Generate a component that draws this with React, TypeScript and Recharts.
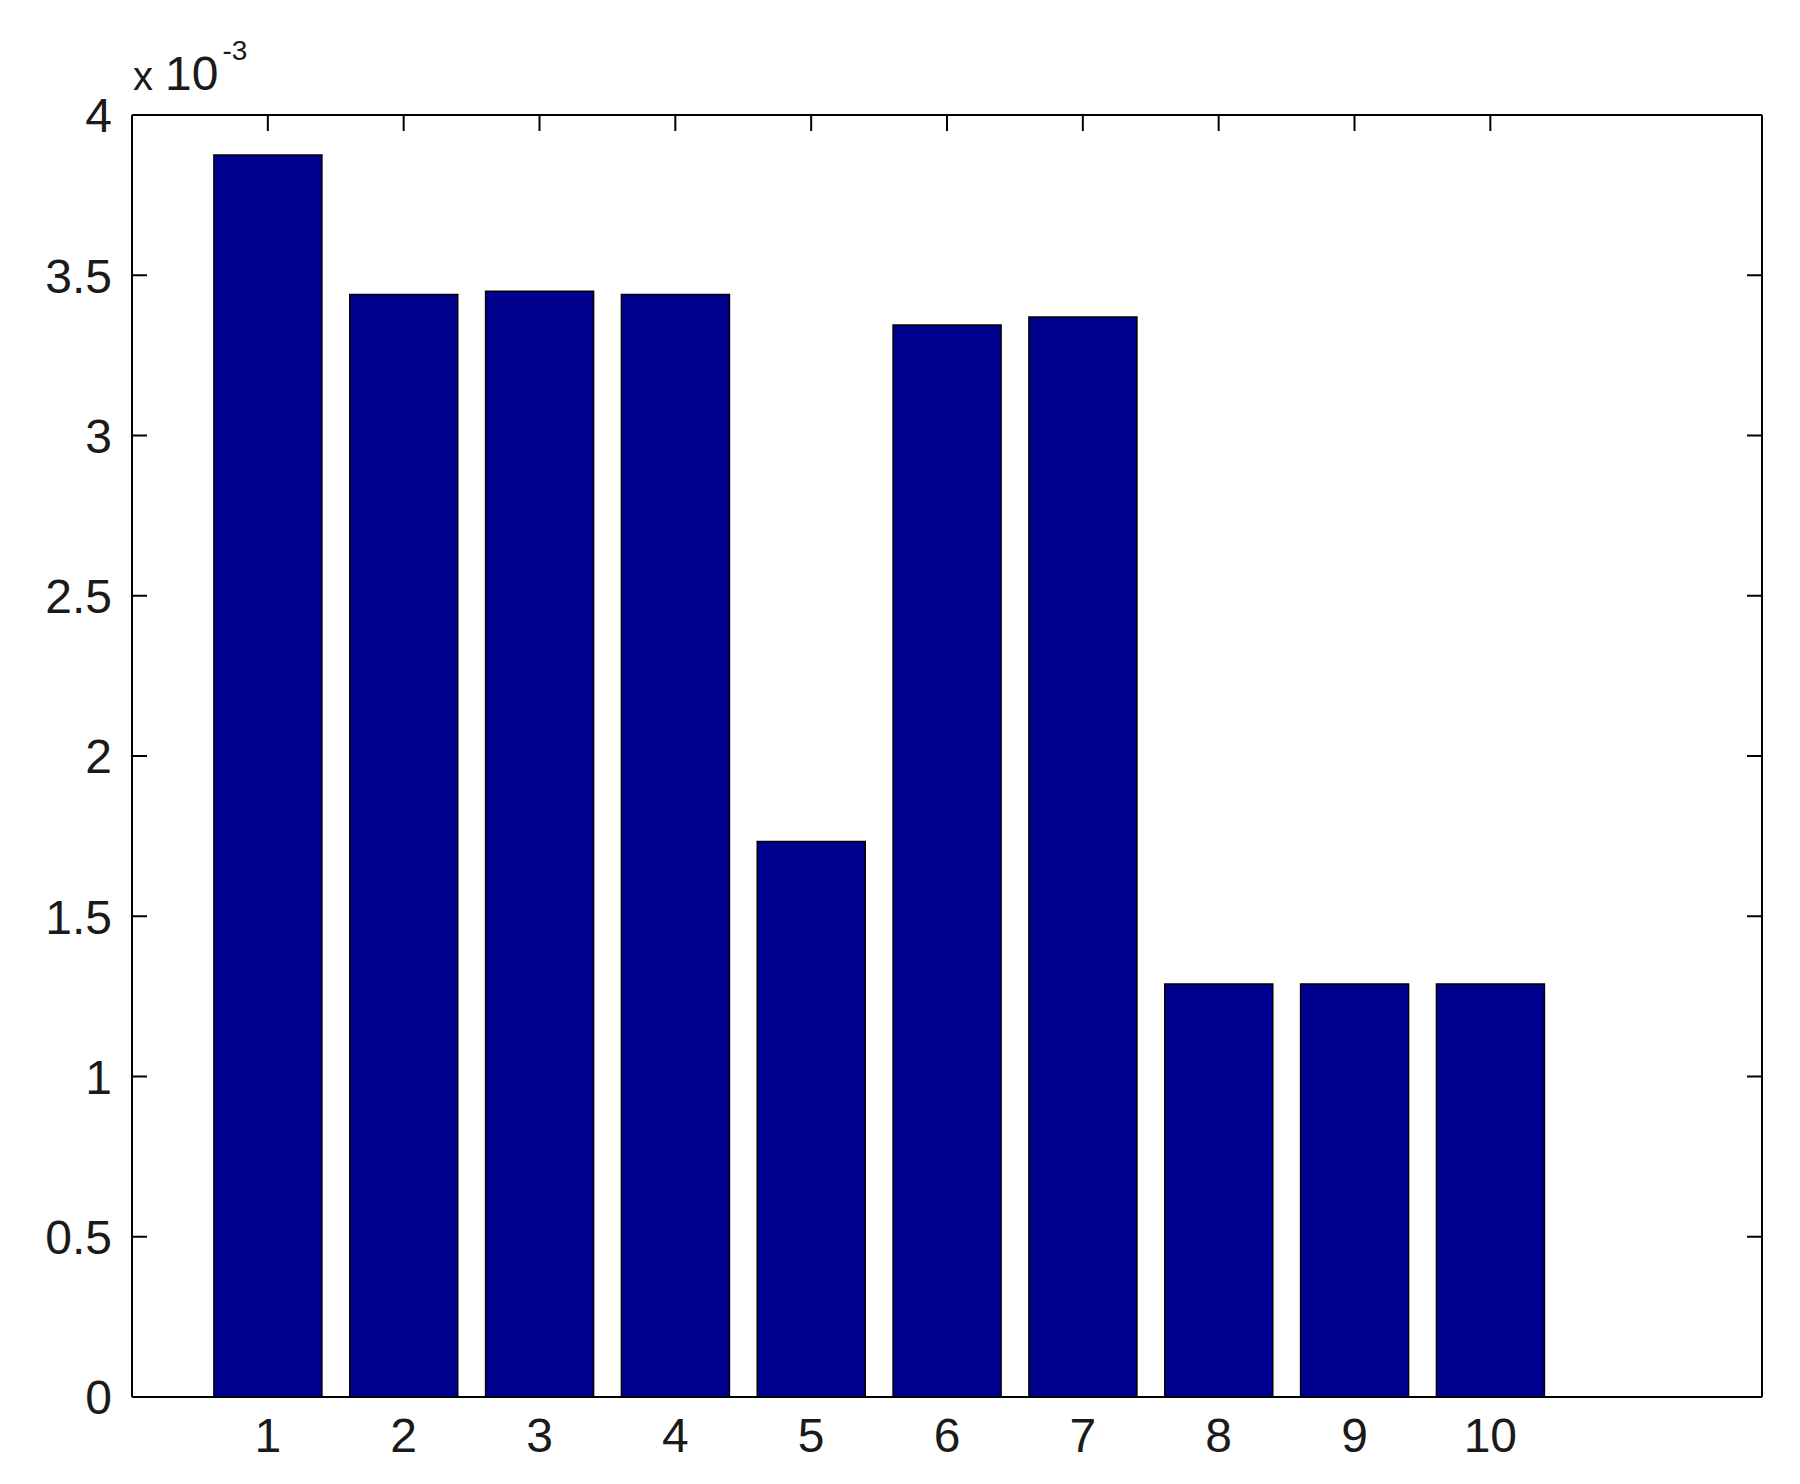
import React from "react";
import { BarChart, Bar, XAxis, YAxis } from "recharts";

const categories = [1, 2, 3, 4, 5, 6, 7, 8, 9, 10];
const values = [0.003875, 0.00344, 0.00345, 0.00344, 0.001733, 0.003345, 0.00337, 0.001289, 0.001289, 0.001289];
const yTicks = [0, 0.0005, 0.001, 0.0015, 0.002, 0.0025, 0.003, 0.0035, 0.004];
const xTicks = [1, 2, 3, 4, 5, 6, 7, 8, 9, 10];

const data = categories.map((c, i) => ({ x: c, v: values[i] }));

const FONT = "'Liberation Sans Narrow', 'Liberation Sans', Arial, sans-serif";
const FS = 48;

const fmtY = (v: number) => String(+(v * 1000).toFixed(1));

const LeftTick = (props: any) => {
  const { x, y, payload } = props;
  return (
    <g>
      <line x1={x} y1={y} x2={x + 15} y2={y} stroke="#000" strokeWidth={2} />
      <text x={x - 20} y={y} dy="0.36em" textAnchor="end" fontFamily={FONT} fontSize={FS} fill="#1a1a1a">
        {fmtY(payload.value)}
      </text>
    </g>
  );
};

const RightTick = (props: any) => {
  const { x, y } = props;
  return <line x1={x} y1={y} x2={x - 15} y2={y} stroke="#000" strokeWidth={2} />;
};

const TopTick = (props: any) => {
  const { x, y } = props;
  return <line x1={x} y1={y} x2={x} y2={y + 16} stroke="#000" strokeWidth={2} />;
};

const BottomTick = (props: any) => {
  const { x, y, payload } = props;
  return (
    <text x={x} y={y + 20} dy="0.72em" textAnchor="middle" fontFamily={FONT} fontSize={FS} fill="#1a1a1a">
      {payload.value}
    </text>
  );
};

const ExpLabel = (props: any) => {
  const vb = props.viewBox || {};
  const x = (vb.x ?? 0) + (vb.width ?? 0) + 1;
  const y = (vb.y ?? 0) - 25;
  return (
    <text x={x} y={y} fontFamily={FONT} fontSize={FS} fill="#1a1a1a">
      <tspan fontSize={40}>x</tspan>
      <tspan dx={12}>10</tspan>
      <tspan dx={4} dy={-30} fontSize={28}>-3</tspan>
    </text>
  );
};

export default function App() {
  return (
    <div style={{ width: 1784, height: 1468, background: "#fff" }}>
      <BarChart
        width={1784}
        height={1468}
        data={data}
        margin={{ top: 97, right: 20, bottom: 19, left: 24 }}
        barCategoryGap={0}
      >
        <XAxis
          xAxisId="b"
          dataKey="x"
          type="number"
          domain={[0, 12]}
          ticks={xTicks}
          interval={0}
          height={60}
          tickSize={0}
          tickMargin={0}
          tickLine={false}
          axisLine={{ stroke: "#000", strokeWidth: 2 }}
          tick={<BottomTick />}
          allowDataOverflow
        />
        <XAxis
          xAxisId="t"
          orientation="top"
          dataKey="x"
          type="number"
          domain={[0, 12]}
          ticks={xTicks}
          interval={0}
          height={10}
          tickSize={0}
          tickMargin={0}
          tickLine={false}
          axisLine={{ stroke: "#000", strokeWidth: 2 }}
          tick={<TopTick />}
          allowDataOverflow
        />
        <YAxis
          yAxisId="l"
          type="number"
          domain={[0, 0.004]}
          ticks={yTicks}
          interval={0}
          width={100}
          tickSize={0}
          tickMargin={0}
          tickLine={false}
          axisLine={{ stroke: "#000", strokeWidth: 2 }}
          tick={<LeftTick />}
          label={{ content: <ExpLabel /> }}
          allowDataOverflow
        />
        <YAxis
          yAxisId="r"
          orientation="right"
          type="number"
          domain={[0, 0.004]}
          ticks={yTicks}
          interval={0}
          width={10}
          tickSize={0}
          tickMargin={0}
          tickLine={false}
          axisLine={{ stroke: "#000", strokeWidth: 2 }}
          tick={<RightTick />}
          allowDataOverflow
        />
        <Bar
          xAxisId="b"
          yAxisId="l"
          dataKey="v"
          barSize={108}
          fill="#00008F"
          stroke="#000"
          strokeWidth={1.5}
          isAnimationActive={false}
        />
      </BarChart>
    </div>
  );
}
